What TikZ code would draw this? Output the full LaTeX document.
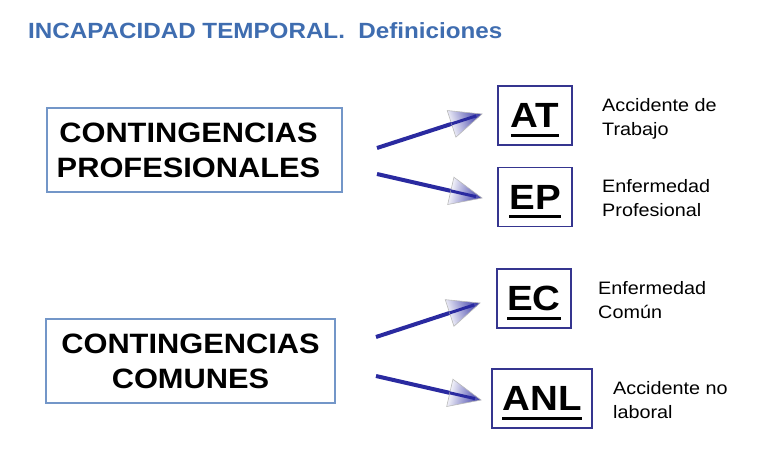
\documentclass[tikz,border=0pt]{standalone}
\usepackage{fontspec}
\setmainfont{Liberation Sans}
\usepackage{graphicx}
\usetikzlibrary{calc}
\definecolor{titleblue}{HTML}{3F6DB0}
\definecolor{boxblue}{HTML}{7396C8}
\definecolor{navyline}{HTML}{35358F}
\definecolor{arrowblue}{HTML}{2A2AA0}
\newcommand\hs[1]{\scalebox{1.1}[1]{#1}}
\newcommand\thickul[1]{\setbox0\hbox{#1}\vtop{\copy0\kern6pt\hrule height 3pt width \wd0}}
\tikzset{
  grpbox/.style={draw=boxblue, line width=1.4pt, inner sep=0pt, align=center,
    font=\fontsize{28}{35}\selectfont\bfseries},
  codebox/.style={draw=navyline, line width=1.6pt, inner sep=0pt, minimum height=59pt,
    text height=33pt, text depth=9pt, font=\fontsize{35}{40}\selectfont\bfseries},
  descr/.style={anchor=base west, inner sep=0pt, align=left,
    font=\fontsize{18}{23.5}\selectfont},
  ttl/.style={anchor=base west, inner sep=0pt, text=titleblue,
    font=\fontsize{22}{26}\selectfont\bfseries},
  linkline/.style={draw=arrowblue, line width=4pt, shorten >=4pt},
}
\newcommand\headarrow[2]{%
  \draw[linkline] (#1) -- (#2);
  \path let \p1=($(#2)-(#1)$), \n1={atan2(\y1,\x1)} in
    [top color=arrowblue!90, bottom color=white, shading angle=\n1-90, draw=gray!55, line width=0.6pt]
    ($(#2)!32pt!(#1)!14pt!90:(#2)$) -- (#2) -- ($(#2)!32pt!(#1)!14pt!-90:(#2)$) -- cycle;
  \draw[draw=arrowblue, line width=3pt, shorten >=6pt] ($(#2)!32pt!(#1)$) -- (#2);
}
\begin{document}
\begin{tikzpicture}[x=1pt,y=-1pt]
  \fill[white] (0,0) rectangle (768,460);
  \useasboundingbox (0,0) rectangle (768,460);

  \node[ttl] (title) at (28,38) {\hs{INCAPACIDAD TEMPORAL.\ \ Definiciones}};

  \node[grpbox, minimum width=295pt, minimum height=84pt] (prof) at (194.5,150)
    {\hs{CONTINGENCIAS}\hspace*{12pt}\\\hs{PROFESIONALES}\hspace*{12pt}};
  \node[grpbox, minimum width=289pt, minimum height=84pt] (comm) at (190.5,361)
    {\hs{CONTINGENCIAS}\\\hs{COMUNES}};

  \node[codebox, minimum width=74pt] (AT) at (535,115.5) {\thickul{\hs{AT}}};
  \node[codebox, minimum width=74pt] (EP) at (535,197) {\thickul{\hs{EP}}};
  \node[codebox, minimum width=74pt] (EC) at (534,298.5) {\thickul{\hs{EC}}};
  \node[codebox, minimum width=100pt] (ANL) at (542,398.5) {\thickul{\hs{ANL}}};

  \node[descr] (atd) at (602,135) {\hs{Accidente de}\\\hs{Trabajo}};
  \node[descr] (epd) at (602,216) {\hs{Enfermedad}\\\hs{Profesional}};
  \node[descr] (ecd) at (598,318) {\hs{Enfermedad}\\\hs{Común}};
  \node[descr] (anld) at (613,418) {\hs{Accidente no}\\\hs{laboral}};

  \coordinate (s1) at (377,148); \coordinate (t1) at (482,114);
  \coordinate (s2) at (377,174); \coordinate (t2) at (482,198);
  \coordinate (s3) at (376,337); \coordinate (t3) at (480,303);
  \coordinate (s4) at (376,376); \coordinate (t4) at (481,400);
  \headarrow{s1}{t1}
  \headarrow{s2}{t2}
  \headarrow{s3}{t3}
  \headarrow{s4}{t4}
\end{tikzpicture}
\end{document}
